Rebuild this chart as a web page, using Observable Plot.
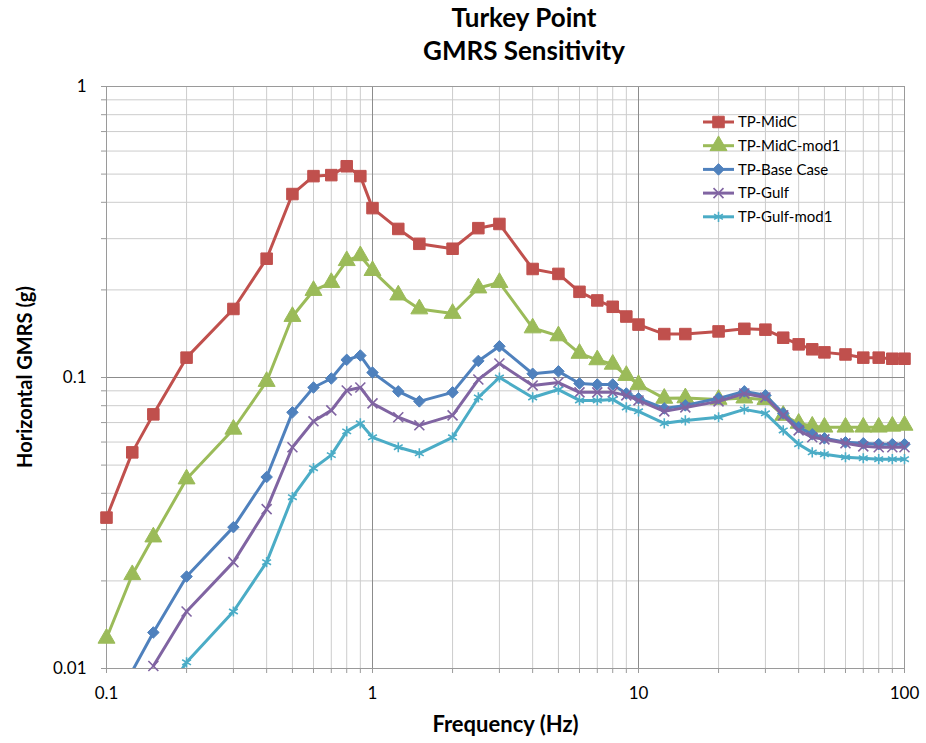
<!DOCTYPE html>
<html><head><meta charset="utf-8">
<script src="https://cdn.jsdelivr.net/npm/d3@7"></script>
<script src="https://cdn.jsdelivr.net/npm/@observablehq/plot@0.6"></script>
<style>body{margin:0;background:#fff;} #chart svg{font-family:Lato,"Open Sans",sans-serif;}</style>
</head><body><div id="chart"></div>
<script>
const titleLines = ["Turkey Point", "GMRS Sensitivity"];
const xLabel = "Frequency (Hz)";
const yLabel = "Horizontal GMRS (g)";
const freq = [0.1,0.125,0.15,0.2,0.3,0.4,0.5,0.6,0.7,0.8,0.9,1,1.25,1.5,2,2.5,3,4,5,6,7,8,9,10,12.5,15,20,25,30,35,40,45,50,60,70,80,90,100];
const seriesNames = ["TP-MidC","TP-MidC-mod1","TP-Base Case","TP-Gulf","TP-Gulf-mod1"];
const midC = [0.033,0.0553,0.0747,0.117,0.172,0.256,0.427,0.492,0.496,0.532,0.492,
  0.382,0.324,0.288,0.277,0.326,0.337,0.236,0.227,0.197,0.184,0.175,0.162,
  0.152,0.141,0.141,0.144,0.147,0.146,0.137,0.130,0.125,0.122,0.120,0.117,0.117,0.116,0.116];
const midCmod1 = [0.0127,0.0210,0.0283,0.0448,0.0664,0.0969,0.162,0.199,0.212,0.252,0.262,
  0.233,0.192,0.172,0.166,0.203,0.212,0.148,0.139,0.121,0.115,0.111,0.1016,
  0.0946,0.0848,0.0851,0.0841,0.085,0.084,0.0741,0.0696,0.068,0.0675,0.0675,0.0675,0.0675,0.068,0.0685];
const baseCase = [null,0.0098,0.0133,0.0207,0.0306,0.0455,0.0759,0.0924,0.0992,0.115,0.119,
  0.104,0.0896,0.0828,0.0889,0.114,0.128,0.103,0.105,0.0954,0.0946,0.0946,0.0881,
  0.0848,0.0783,0.0802,0.0848,0.0896,0.0868,0.0753,0.0675,0.0638,0.0618,0.0599,0.0594,0.059,0.059,0.059];
const gulf = [null,null,0.0102,0.0157,0.0232,0.0353,0.0576,0.0707,0.0771,0.0902,0.0924,
  0.0815,0.073,0.0685,0.0741,0.0984,0.1117,0.0939,0.0961,0.0889,0.0889,0.0889,0.0868,
  0.0834,0.0765,0.0789,0.0828,0.0881,0.0854,0.0741,0.0658,0.0623,0.0613,0.0594,0.058,0.0576,0.0576,0.0576];
const gulfMod1 = [null,null,0.0071,0.0105,0.0157,0.0232,0.0388,0.0488,0.0541,0.0653,0.0696,
  0.0623,0.0576,0.0549,0.0623,0.0854,0.1,0.0854,0.0909,0.0834,0.0834,0.0841,0.0789,
  0.0765,0.0696,0.0712,0.073,0.0777,0.0753,0.0658,0.059,0.0553,0.0545,0.0532,0.0528,0.0524,0.0524,0.0524];
const xTickLabels = [0.1, 1, 10, 100];
const yTickLabels = [0.01, 0.1, 1];

const seriesValues = [midC, midCmod1, baseCase, gulf, gulfMod1];
const colors = ["#C0504D","#9BBB59","#4F81BD","#8064A2","#4BACC6"];
const symbols = ["square","triangle","diamond2","times","asterisk"];
const symR = [6.5, 6.3, 5.2, 4.6, 4.8];
const filled = [true,true,true,false,false];

const rows = seriesNames.map((name, i) => freq.map((f, j) => ({series: name, f, v: seriesValues[i][j]})));

const xAll = d3.scaleLog().domain([0.1,100]).ticks(10);
const yAll = d3.scaleLog().domain([0.01,1]).ticks(10);
const isMajor = d => Math.abs(Math.log10(d) - Math.round(Math.log10(d))) < 1e-9;
const xMinor = xAll.filter(d => !isMajor(d)), xMajor = xAll.filter(isMajor);
const yMinor = yAll.filter(d => !isMajor(d)), yMajor = yAll.filter(isMajor);
const fmtFor = labels => d => labels.some(t => Math.abs(t - d) / t < 1e-9) ? String(+d.toPrecision(3)) : "";

const marks = [
  Plot.ruleX(xMinor, {stroke: "#cccccc", strokeWidth: 1}),
  Plot.ruleY(yMinor, {stroke: "#cccccc", strokeWidth: 1}),
  Plot.ruleX(xMajor, {stroke: "#8c8c8c", strokeWidth: 1}),
  Plot.ruleY(yMajor, {stroke: "#8c8c8c", strokeWidth: 1}),
  Plot.frame({stroke: "#9a9a9a"}),
  Plot.axisX(xAll, {tickSize: 5, tickPadding: 13, tickFormat: fmtFor(xTickLabels), stroke: "#9a9a9a", fill: "#000", fontSize: 17, label: null}),
  Plot.axisY(yAll, {tickSize: 5, tickPadding: 15, tickFormat: fmtFor(yTickLabels), stroke: "#9a9a9a", fill: "#000", fontSize: 17, label: null})
];
rows.forEach((data, i) => {
  marks.push(Plot.line(data, {x: "f", y: "v", stroke: colors[i], strokeWidth: 3, clip: true}));
  const vis = data.filter(d => d.v != null && d.v >= 0.0099);
  marks.push(Plot.dot(vis, {x: "f", y: "v", symbol: () => symbols[i], r: symR[i],
    fill: filled[i] ? colors[i] : "none", stroke: colors[i], strokeWidth: filled[i] ? 1 : 1.6}));
});

const chart = Plot.plot({
  width: 926, height: 743,
  marginLeft: 106, marginRight: 22, marginTop: 86, marginBottom: 75,
  x: {type: "log", domain: [0.1, 100], axis: null},
  y: {type: "log", domain: [0.01, 1], axis: null},
  symbol: {type: "identity"},
  style: {fontFamily: "Lato, 'Open Sans', sans-serif", background: "#fff"},
  marks
});
document.getElementById("chart").appendChild(chart);

const svg = d3.select(chart);
const t = svg.append("g").attr("font-family", "Lato, 'Open Sans', sans-serif").attr("font-weight", "bold").attr("fill", "#000").attr("text-anchor", "middle");
t.append("text").attr("x", 524).attr("y", 27).attr("font-size", 26).text(titleLines[0]);
t.append("text").attr("x", 524).attr("y", 60).attr("font-size", 26).text(titleLines[1]);
t.append("text").attr("x", 505.5).attr("y", 732).attr("font-size", 22).text(xLabel);
t.append("text").attr("transform", "translate(32,377) rotate(-90)").attr("font-size", 20).text(yLabel);

const lg = svg.append("g").attr("font-family", "Lato, 'Open Sans', sans-serif").attr("text-anchor", "start");
const symMap = {square: d3.symbolSquare, triangle: d3.symbolTriangle, diamond2: d3.symbolDiamond2, times: d3.symbolTimes, asterisk: d3.symbolAsterisk};
seriesNames.forEach((name, i) => {
  const y = 122 + i * 23.7;
  lg.append("line").attr("x1", 703).attr("x2", 734).attr("y1", y).attr("y2", y).attr("stroke", colors[i]).attr("stroke-width", 3);
  lg.append("path").attr("transform", `translate(718.5,${y})`)
    .attr("d", d3.symbol(symMap[symbols[i]], Math.PI * symR[i] * symR[i])())
    .attr("fill", filled[i] ? colors[i] : "none").attr("stroke", colors[i]).attr("stroke-width", filled[i] ? 1 : 1.6);
  lg.append("text").attr("x", 738).attr("y", y).attr("dy", "0.35em").attr("font-size", 15).attr("fill", "#000").attr("text-anchor", "start").text(name);
});
</script>
</body></html>
